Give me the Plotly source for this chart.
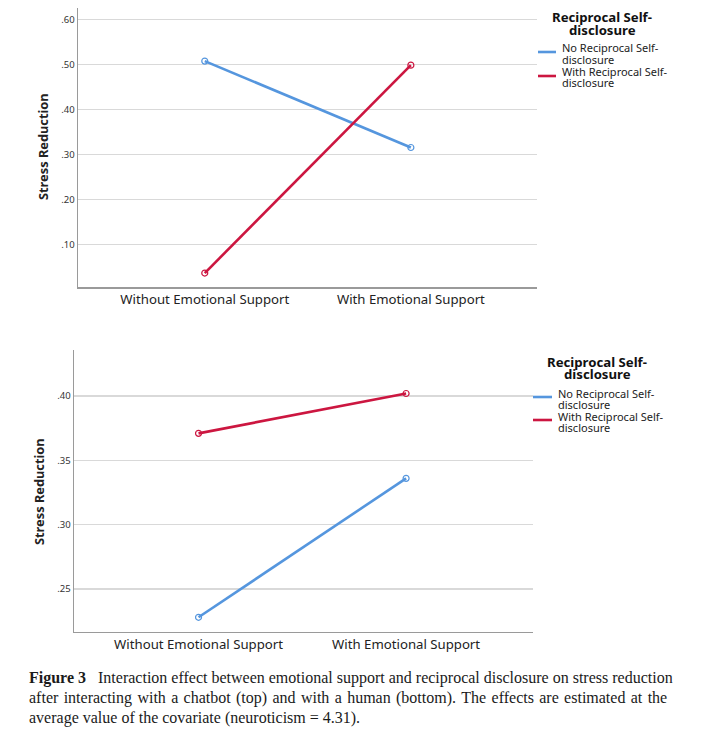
import plotly.graph_objects as go

# page body has an 8px default margin; the figure fills the rest of the 720x737 window
OFF = 8
W, H = 720 - 2 * OFF, 737 - 2 * OFF

categories = ["Without Emotional Support", "With Emotional Support"]
series_names = ["No Reciprocal Self-disclosure", "With Reciprocal Self-disclosure"]
chatbot_no = [0.507, 0.315]
chatbot_with = [0.036, 0.498]
human_no = [0.228, 0.336]
human_with = [0.371, 0.402]
top_ticks = [0.10, 0.20, 0.30, 0.40, 0.50, 0.60]
top_ticktext = [".10", ".20", ".30", ".40", ".50", ".60"]
bot_ticks = [0.25, 0.30, 0.35, 0.40]
bot_ticktext = [".25", ".30", ".35", ".40"]
y_title = "Stress Reduction"
legend_title = ["Reciprocal Self-", "disclosure"]
legend_items = [["No Reciprocal Self-", "disclosure"], ["With Reciprocal Self-", "disclosure"]]
caption_lines = [
    "<b>Figure 3</b>\u2002 Interaction effect between emotional support and reciprocal disclosure on stress reduction",
    "after interacting with a chatbot (top) and with a human (bottom). The effects are estimated at the",
    "average value of the covariate (neuroticism = 4.31).",
]
# the second caption line is justified in the original: widen its word gaps
caption_lines[1] = caption_lines[1].replace(" ", " \u200a")

BLUE = "#5596de"
RED = "#cc1640"
SANS = "Noto Sans"
TXT = "#222222"


def px(x):
    return min(1.0, max(0.0, (x - OFF) / W))


def py(y):
    return min(1.0, max(0.0, 1 - (y - OFF) / H))


fig = go.Figure()

panels = [
    dict(xa="x", ya="y", no=chatbot_no, wi=chatbot_with),
    dict(xa="x2", ya="y2", no=human_no, wi=human_with),
]
for p in panels:
    for vals, col, name in [(p["no"], BLUE, series_names[0]), (p["wi"], RED, series_names[1])]:
        fig.add_trace(go.Scatter(
            x=categories, y=vals, xaxis=p["xa"], yaxis=p["ya"], name=name,
            mode="lines+markers", showlegend=False, hoverinfo="skip",
            line=dict(color=col, width=2.6),
            marker=dict(symbol="circle-open", size=6, color=col, line=dict(width=1.2, color=col)),
        ))

axis_common = dict(showline=True, linecolor="#9a9a9a", linewidth=1.5, zeroline=False,
                   ticks="", fixedrange=True)

fig.update_layout(
    width=W, height=H,
    margin=dict(l=0, r=0, t=0, b=0),
    paper_bgcolor="white", plot_bgcolor="white",
    font=dict(family=SANS, color=TXT),
    xaxis=dict(domain=[px(78), px(537)], anchor="y", type="category", range=[-0.615, 1.612],
               showgrid=False, tickfont=dict(size=13.2, color=TXT), **axis_common),
    yaxis=dict(domain=[py(287), py(8)], anchor="x", range=[0.005, 0.625],
               tickvals=top_ticks, ticktext=top_ticktext, showgrid=True,
               gridcolor="#d9d9d9", gridwidth=1.2, tickfont=dict(size=9.5, color="#333"), **axis_common),
    xaxis2=dict(domain=[px(74), px(532.7)], anchor="y2", type="category", range=[-0.6, 1.61],
                showgrid=False, tickfont=dict(size=13.2, color=TXT), **axis_common),
    yaxis2=dict(domain=[py(631.7), py(350)], anchor="x2", range=[0.2168, 0.4358],
                tickvals=bot_ticks, ticktext=bot_ticktext, showgrid=True,
                gridcolor="#d9d9d9", gridwidth=1.2, tickfont=dict(size=9.5, color="#333"), **axis_common),
)

ann = []
# y-axis titles
for (x, y) in [(43, 147), (39, 492)]:
    ann.append(dict(x=px(x), y=py(y), xref="paper", yref="paper", text="<b>%s</b>" % y_title,
                    textangle=-90, showarrow=False, xanchor="center", yanchor="middle",
                    font=dict(size=12.8, family=SANS, color=TXT)))

# legends
legend_specs = [
    dict(tx=602, ty=[17, 30], lx0=538, lx1=556, ly=[52, 76], txt_x=560, txt_y=[[48, 60], [72, 83]]),
    dict(tx=597, ty=[362, 374], lx0=533, lx1=552, ly=[397, 420], txt_x=556, txt_y=[[393, 404], [416, 427]]),
]
shapes = []
for L in legend_specs:
    for t, yy in zip(legend_title, L["ty"]):
        ann.append(dict(x=px(L["tx"]), y=py(yy), xref="paper", yref="paper", text="<b>%s</b>" % t,
                        showarrow=False, xanchor="center", yanchor="middle",
                        font=dict(size=13.2, family=SANS, color="#111")))
    for col, ly, lines, tys in zip([BLUE, RED], L["ly"], legend_items, L["txt_y"]):
        shapes.append(dict(type="line", xref="paper", yref="paper", x0=px(L["lx0"]), x1=px(L["lx1"]),
                           y0=py(ly), y1=py(ly), line=dict(color=col, width=2.6)))
        for t, yy in zip(lines, tys):
            ann.append(dict(x=px(L["txt_x"]), y=py(yy), xref="paper", yref="paper", text=t,
                            showarrow=False, xanchor="left", yanchor="middle",
                            font=dict(size=11, family=SANS, color=TXT)))

# caption
for t, yy in zip(caption_lines, [678, 698, 718]):
    ann.append(dict(x=px(27), y=py(yy), xref="paper", yref="paper", text=t, showarrow=False,
                    xanchor="left", yanchor="middle", align="left",
                    font=dict(size=16, family="Liberation Serif", color="#1a1a1a")))

fig.update_layout(annotations=ann, shapes=shapes)

fig.write_html("out.html", config={"displayModeBar": False, "staticPlot": True})
